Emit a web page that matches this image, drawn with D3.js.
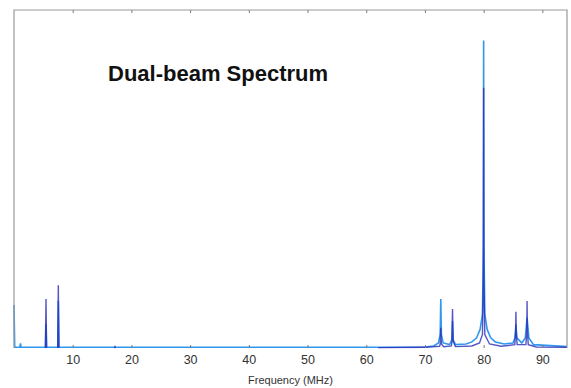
<!DOCTYPE html>
<html>
<head>
<meta charset="utf-8">
<script src="https://cdn.jsdelivr.net/npm/d3@7"></script>
<style>
  body { margin: 0; background: #fff; }
  svg { display: block; font-family: Arial, "Liberation Sans", sans-serif; }
</style>
</head>
<body>
<div id="chart"></div>
<script>
// frequency (MHz), amplitude (arb.)
const beamA = [
  [0, 0.127], [0.12, 0.002], [1.0, 0.002], [1.1, 0.014], [1.2, 0.002],
  [5.35, 0.002], [5.45, 0.07], [5.55, 0.002], [7.45, 0.002], [7.55, 0.14], [7.65, 0.002],
  [60, 0.002], [70, 0.003], [71.5, 0.006], [72.3, 0.015], [72.6, 0.04], [72.7, 0.145],
  [72.8, 0.04], [73.1, 0.015], [74.2, 0.01], [74.6, 0.025], [74.7, 0.08], [74.8, 0.025],
  [75.2, 0.01], [77, 0.012], [78, 0.018], [78.8, 0.03], [79.4, 0.055], [79.8, 0.1],
  [79.95, 0.3], [80, 0.91], [80.05, 0.3], [80.2, 0.1], [80.6, 0.055], [81.2, 0.03],
  [82, 0.018], [83.5, 0.012], [85, 0.015], [85.35, 0.03], [85.5, 0.07], [85.65, 0.03],
  [86.5, 0.015], [87.1, 0.03], [87.4, 0.09], [87.7, 0.03], [88.5, 0.01], [94.2, 0.004]
];

const beamB = [
  [5.35, 0], [5.45, 0.145], [5.55, 0], [null, null],
  [7.45, 0], [7.55, 0.186], [7.65, 0], [null, null],
  [17.1, 0], [17.2, 0.004], [17.3, 0], [null, null],
  [62, 0.001], [70, 0.002], [72.5, 0.005], [72.6, 0.012], [72.7, 0.06], [72.8, 0.012],
  [73.2, 0.004], [74.5, 0.006], [74.6, 0.02], [74.7, 0.115], [74.8, 0.02], [75.2, 0.004],
  [78, 0.006], [79.3, 0.015], [79.8, 0.04], [79.95, 0.2], [80, 0.77], [80.05, 0.2],
  [80.2, 0.04], [81, 0.012], [83, 0.005], [85.3, 0.01], [85.45, 0.05], [85.5, 0.107],
  [85.55, 0.05], [85.7, 0.01], [87.2, 0.01], [87.35, 0.05], [87.4, 0.139], [87.45, 0.05],
  [87.6, 0.01], [89, 0.003], [94.2, 0.002]
];

const xTicks = [10, 20, 30, 40, 50, 60, 70, 80, 90];
const xDomain = [0, 94.2];
const yDomain = [0, 1];

const width = 571, height = 388;
const margin = { top: 10, right: 4, bottom: 40, left: 14 };

const svg = d3.select('#chart').append('svg')
  .attr('width', width)
  .attr('height', height);

const x = d3.scaleLinear().domain(xDomain).range([margin.left, width - margin.right]);
const y = d3.scaleLinear().domain(yDomain).range([height - margin.bottom, margin.top]);

const line = d3.line()
  .defined(d => d[0] != null)
  .x(d => x(d[0]))
  .y(d => y(d[1]));

// traces
svg.append('path')
  .datum(beamA)
  .attr('fill', 'none')
  .attr('stroke', '#2f97ee')
  .attr('stroke-width', 1.6)
  .attr('d', line);

svg.append('path')
  .datum(beamB)
  .attr('fill', 'none')
  .attr('stroke', '#2a2ab8')
  .attr('stroke-opacity', 0.8)
  .attr('stroke-width', 1.4)
  .attr('d', line);

// axes (box with inward ticks)
const bottomAxis = d3.axisBottom(x).tickValues(xTicks).tickSize(-3).tickPadding(7);
const topAxis = d3.axisTop(x).tickValues(xTicks).tickSize(-3).tickFormat('');

const gx = svg.append('g')
  .attr('transform', `translate(0,${height - margin.bottom})`)
  .call(bottomAxis);
gx.select('.domain').remove();
gx.selectAll('.tick line').attr('stroke', '#777');
gx.selectAll('.tick text')
  .attr('fill', '#333')
  .style('font-size', '12.5px');

const gt = svg.append('g')
  .attr('transform', `translate(0,${margin.top})`)
  .call(topAxis);
gt.select('.domain').remove();
gt.selectAll('.tick line').attr('stroke', '#777');

svg.append('path')
  .attr('fill', 'none')
  .attr('stroke', '#999')
  .attr('stroke-width', 1.2)
  .attr('d', `M${x(xDomain[0])},${y(0)}V${y(yDomain[1])}H${x(xDomain[1])}V${y(0)}`);

svg.append('text')
  .attr('x', (margin.left + width - margin.right) / 2)
  .attr('y', 384)
  .attr('text-anchor', 'middle')
  .attr('fill', '#333')
  .style('font-size', '11px')
  .text('Frequency (MHz)');

svg.append('text')
  .attr('x', 108)
  .attr('y', 81)
  .attr('textLength', 220)
  .attr('lengthAdjust', 'spacing')
  .attr('fill', '#111')
  .style('font-size', '22px')
  .style('font-weight', 'bold')
  .text('Dual-beam Spectrum');
</script>
</body>
</html>
